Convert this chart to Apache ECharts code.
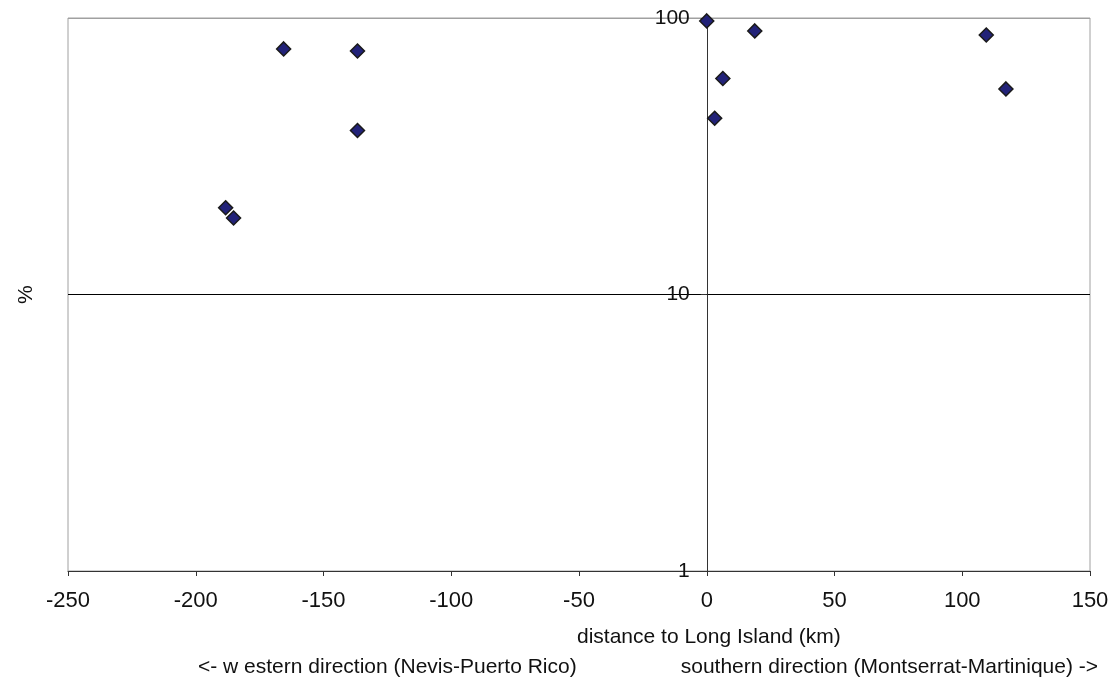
<!DOCTYPE html>
<html>
<head>
<meta charset="utf-8">
<script src="https://cdn.jsdelivr.net/npm/echarts@6/dist/echarts.min.js"></script>
<style>
  html, body { margin: 0; padding: 0; background: #fff; }
  #main { width: 1112px; height: 686px; }
</style>
</head>
<body>
<div id="main"></div>
<script>
// distance to Long Island (km) and share (%)
const distances = [-165.6, -136.7, -136.7, -188.3, -185.2, 0, 18.8, 6.3, 3.1, 109.4, 117.1];
const percents = [77.3, 76, 39.2, 20.6, 18.9, 97.6, 89.8, 60.4, 43.4, 86.8, 55.4];
const xTicks = [-250, 150, 50]; // min, max, step
const yTicks = [1, 100]; // log range

const font = 'Liberation Sans, Arial, sans-serif';
const gridLeft = 68;
const chart = echarts.init(document.getElementById('main'));

const points = distances.map((d, i) => [d, percents[i]]);

chart.setOption({
  animation: false,
  grid: {
    left: gridLeft, right: 22, top: 18, bottom: 115,
    show: true, borderColor: '#a0a0a0', borderWidth: 1,
  },
  xAxis: {
    type: 'value',
    min: xTicks[0], max: xTicks[1], interval: xTicks[2],
    axisLine: {onZero: false, lineStyle: {color: '#333', width: 1}},
    axisTick: {show: true, length: 5, lineStyle: {color: '#333'}},
    axisLabel: {color: '#111', fontFamily: font, fontSize: 22, margin: 19},
    splitLine: {show: false},
  },
  yAxis: {
    type: 'log', logBase: 10,
    min: yTicks[0], max: yTicks[1],
    position: 'left',
    axisLine: {show: true, onZero: false, lineStyle: {color: '#333', width: 1}},
    axisTick: {show: true, length: 6, lineStyle: {color: '#333'}},
    axisLabel: {color: '#111', fontFamily: font, fontSize: 21, margin: 17},
    splitLine: {show: true, lineStyle: {color: ['#000', '#000', '#a0a0a0'], width: 1}},
  },
  graphic: [
    {
      type: 'text', left: 577, top: 627,
      style: {text: 'distance to Long Island (km)', fill: '#111', font: '21px ' + font},
    },
    {
      type: 'text', left: 198, top: 657,
      style: {text: '<- w estern direction (Nevis-Puerto Rico)', fill: '#111', font: '21px ' + font},
    },
    {
      type: 'text', right: 14, top: 657,
      style: {text: 'southern direction (Montserrat-Martinique) ->', fill: '#111', font: '21px ' + font},
    },
    {
      type: 'text', x: 16, y: 304, rotation: Math.PI / 2,
      style: {text: '%', fill: '#111', font: '21px ' + font},
    },
  ],
  series: [{
    type: 'scatter',
    symbol: 'diamond',
    symbolSize: 14,
    itemStyle: {color: '#222278', borderColor: '#1a1a1a', borderWidth: 1.5, opacity: 1},
    data: points,
  }],
});

// put the y axis on x = 0, as in the original
const zeroX = chart.convertToPixel({xAxisIndex: 0}, 0);
chart.setOption({yAxis: {offset: -(zeroX - gridLeft)}});
</script>
</body>
</html>
